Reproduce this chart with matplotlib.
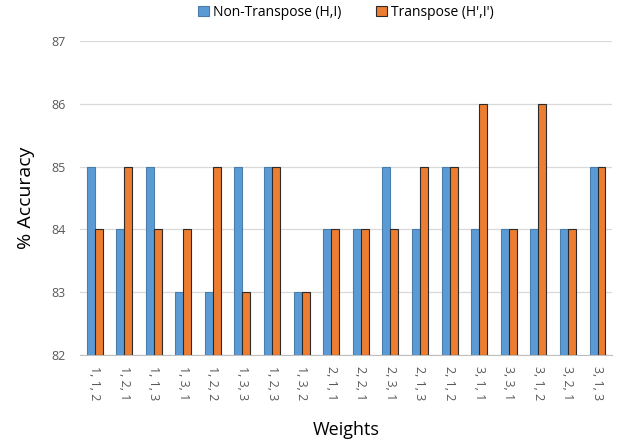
import matplotlib.pyplot as plt
import numpy as np

plt.rcParams['font.family'] = ['Open Sans', 'DejaVu Sans']

weights = ['1, 1, 2', '1, 2, 1', '1, 1, 3', '1, 3, 1', '1, 2, 2', '1, 3, 3',
           '1, 2, 3', '1, 3, 2', '2, 1, 1', '2, 2, 1', '2, 3, 1', '2, 1, 3',
           '2, 1, 2', '3, 1, 1', '3, 3, 1', '3, 1, 2', '3, 2, 1', '3, 1, 3']
non_transpose = [85, 84, 85, 83, 83, 85, 85, 83, 84, 84, 85, 84, 85, 84, 84, 84, 84, 85]
transpose = [84, 85, 84, 84, 85, 83, 85, 83, 84, 84, 84, 85, 85, 86, 84, 86, 84, 85]

fig = plt.figure(figsize=(6.28, 4.45), dpi=100)
ax = fig.add_axes([0.127, 0.202, 0.848, 0.706])

x = np.arange(len(weights))
w = 0.27
base = 82
ax.bar(x - w / 2, np.array(non_transpose) - base, w, bottom=base, color='#5B9BD5',
       edgecolor='#4A7DAA', linewidth=0.8, label='Non-Transpose (H,I)', zorder=3)
ax.bar(x + w / 2, np.array(transpose) - base, w, bottom=base, color='#ED7D31',
       edgecolor='#2b2b2b', linewidth=0.8, label="Transpose (H',I')", zorder=3)

ax.set_xlim(-0.5, len(weights) - 0.5)
ax.set_ylim(82, 87)
ax.set_yticks(range(82, 88))
ax.yaxis.grid(True, color='#d9d9d9', linewidth=0.9, zorder=0)
for s in ['top', 'right', 'left']:
    ax.spines[s].set_visible(False)
ax.spines['bottom'].set_color('#bfbfbf')
ax.tick_params(axis='both', length=0, colors='#595959', labelsize=9)
ax.tick_params(axis='y', pad=10)
ax.set_xticks(x)
ax.set_xticklabels(weights, rotation=-90, va='top', ha='center')
ax.tick_params(axis='x', pad=8)

ax.set_ylabel('% Accuracy', fontsize=14, labelpad=12)
ax.set_xlabel('Weights', fontsize=13, labelpad=15)

ax.legend(loc='lower center', bbox_to_anchor=(0.5, 1.05), ncol=2, frameon=False,
          fontsize=10, handlelength=0.8, handleheight=0.8, columnspacing=2.5,
          handletextpad=0.3, borderaxespad=0)

fig.savefig('out.png', dpi=100)
